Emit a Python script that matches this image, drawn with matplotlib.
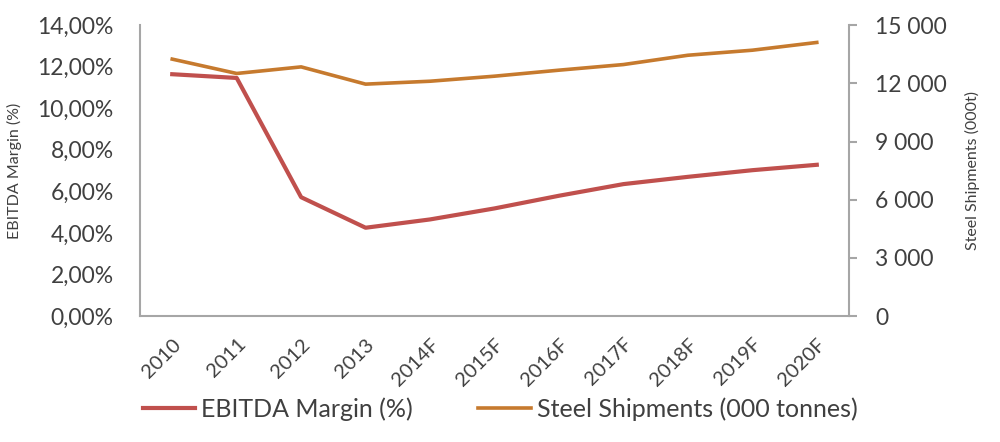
import matplotlib.pyplot as plt
from matplotlib.ticker import FuncFormatter

# dane
lata = ['2010', '2011', '2012', '2013', '2014F', '2015F', '2016F',
        '2017F', '2018F', '2019F', '2020F']
ebitda = [11.64, 11.46, 5.72, 4.25, 4.65, 5.18, 5.79, 6.35, 6.70, 7.02, 7.28]
wysylki = [13250, 12510, 12850, 11960, 12110, 12370, 12680, 12970, 13450, 13710, 14110]

plt.rcParams['font.family'] = ['Lato', 'DejaVu Sans']
kolor_e = '#C0504D'
kolor_s = '#C67A2E'
szary = '#A6A6A6'
tekst = '#404040'

fig = plt.figure(figsize=(10, 4.42), dpi=100)
ax = fig.add_axes([0.14, 0.285, 0.709, 0.658])
ax2 = ax.twinx()

x = range(len(lata))
l1, = ax.plot(x, ebitda, color=kolor_e, lw=3, label='EBITDA Margin (%)')
l2, = ax2.plot(x, wysylki, color=kolor_s, lw=2.6, label='Steel Shipments (000 tonnes)')

ax.set_xlim(-0.5, len(lata) - 0.5)
ax.set_ylim(0, 14)
ax.set_yticks(range(0, 15, 2))
ax.yaxis.set_major_formatter(FuncFormatter(lambda v, p: f'{v:.2f}%'.replace('.', ',')))
ax2.set_ylim(0, 15000)
ax2.set_yticks(range(0, 15001, 3000))
ax2.yaxis.set_major_formatter(FuncFormatter(lambda v, p: f'{int(v):,}'.replace(',', ' ')))

ax.set_xticks(list(x))
ax.set_xticklabels(lata, rotation=45, ha='right', va='top', rotation_mode='anchor')

for a in (ax, ax2):
    for s in a.spines.values():
        s.set_visible(False)
ax.spines['left'].set_visible(True)
ax.spines['bottom'].set_visible(True)
ax2.spines['right'].set_visible(True)
for s in (ax.spines['left'], ax.spines['bottom'], ax2.spines['right']):
    s.set_color(szary)
    s.set_linewidth(1.5)

ax.tick_params(axis='y', length=0, labelsize=16.5, labelcolor=tekst, pad=19)
ax.tick_params(axis='x', length=0, labelsize=14.5, labelcolor=tekst, pad=14)
ax2.tick_params(axis='y', length=6, width=1.5, color=szary, labelsize=16.5,
                labelcolor=tekst, pad=13)

ax.set_ylabel('EBITDA Margin (%)', fontsize=11.5, color=tekst)
ax2.set_ylabel('Steel Shipments (000t)', fontsize=11.5, color=tekst)
ax.yaxis.set_label_coords(-0.166, 0.5)
ax2.yaxis.set_label_coords(1.163, 0.5)

fig.legend([l1, l2], [l1.get_label(), l2.get_label()], loc='center',
           bbox_to_anchor=(0.5, 0.075), ncol=2, frameon=False, fontsize=18,
           handlelength=2.1, handletextpad=0.25, columnspacing=2.6, labelcolor=tekst)

fig.savefig('out.png', dpi=100)
